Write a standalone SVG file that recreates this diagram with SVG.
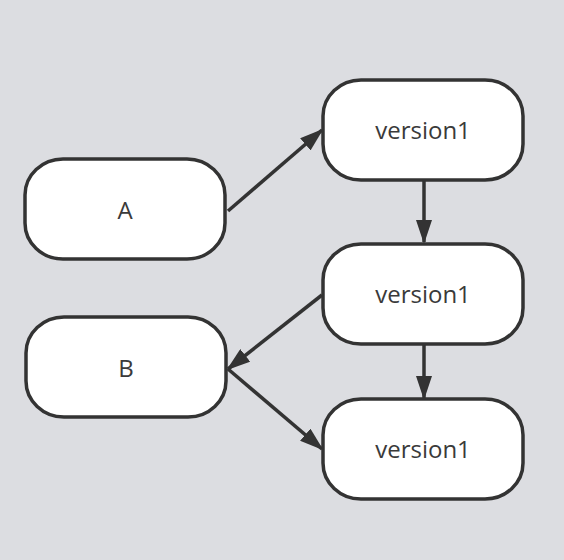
<svg xmlns="http://www.w3.org/2000/svg" width="564" height="560" viewBox="0 0 564 560">
  <defs>
    <style>
      .node rect { fill: #ffffff; stroke: #333333; stroke-width: 3.5; }
      .node text { font-family: "Open Sans", "Liberation Sans", sans-serif; font-size: 24px; fill: #3a3a3a; text-anchor: middle; }
      .edge { stroke: #333333; stroke-width: 3.5; fill: none; marker-end: url(#arrow); }
    </style>
    <marker id="arrow" viewBox="0 0 24 16" refX="22" refY="8" markerWidth="24" markerHeight="16" markerUnits="userSpaceOnUse" orient="auto">
      <path d="M0,0 L24,8 L0,16 Z" fill="#333333"/>
    </marker>
  </defs>

  <!-- canvas -->
  <rect x="0" y="0" width="564" height="560" fill="#dcdde1"/>

  <!-- connectors -->
  <g id="connectors">
    <line class="edge" x1="228" y1="211" x2="322" y2="130"/>
    <line class="edge" x1="424" y1="181" x2="424" y2="242"/>
    <line class="edge" x1="322" y1="295" x2="228" y2="369"/>
    <line class="edge" x1="424" y1="345" x2="424" y2="398"/>
    <line class="edge" x1="228" y1="369" x2="322" y2="449"/>
  </g>

  <!-- nodes -->
  <g id="node-a" class="node">
    <rect x="25" y="159" width="200" height="100" rx="38" ry="36"/>
    <text x="125" y="219">A</text>
  </g>
  <g id="node-b" class="node">
    <rect x="26" y="317" width="200" height="100" rx="38" ry="36"/>
    <text x="126" y="377">B</text>
  </g>
  <g id="node-v1-top" class="node">
    <rect x="323" y="80" width="200" height="100" rx="38" ry="36"/>
    <text x="423" y="139">version1</text>
  </g>
  <g id="node-v1-mid" class="node">
    <rect x="323" y="244" width="200" height="100" rx="38" ry="36"/>
    <text x="423" y="303">version1</text>
  </g>
  <g id="node-v1-bottom" class="node">
    <rect x="323" y="399" width="200" height="100" rx="38" ry="36"/>
    <text x="423" y="458">version1</text>
  </g>
</svg>
